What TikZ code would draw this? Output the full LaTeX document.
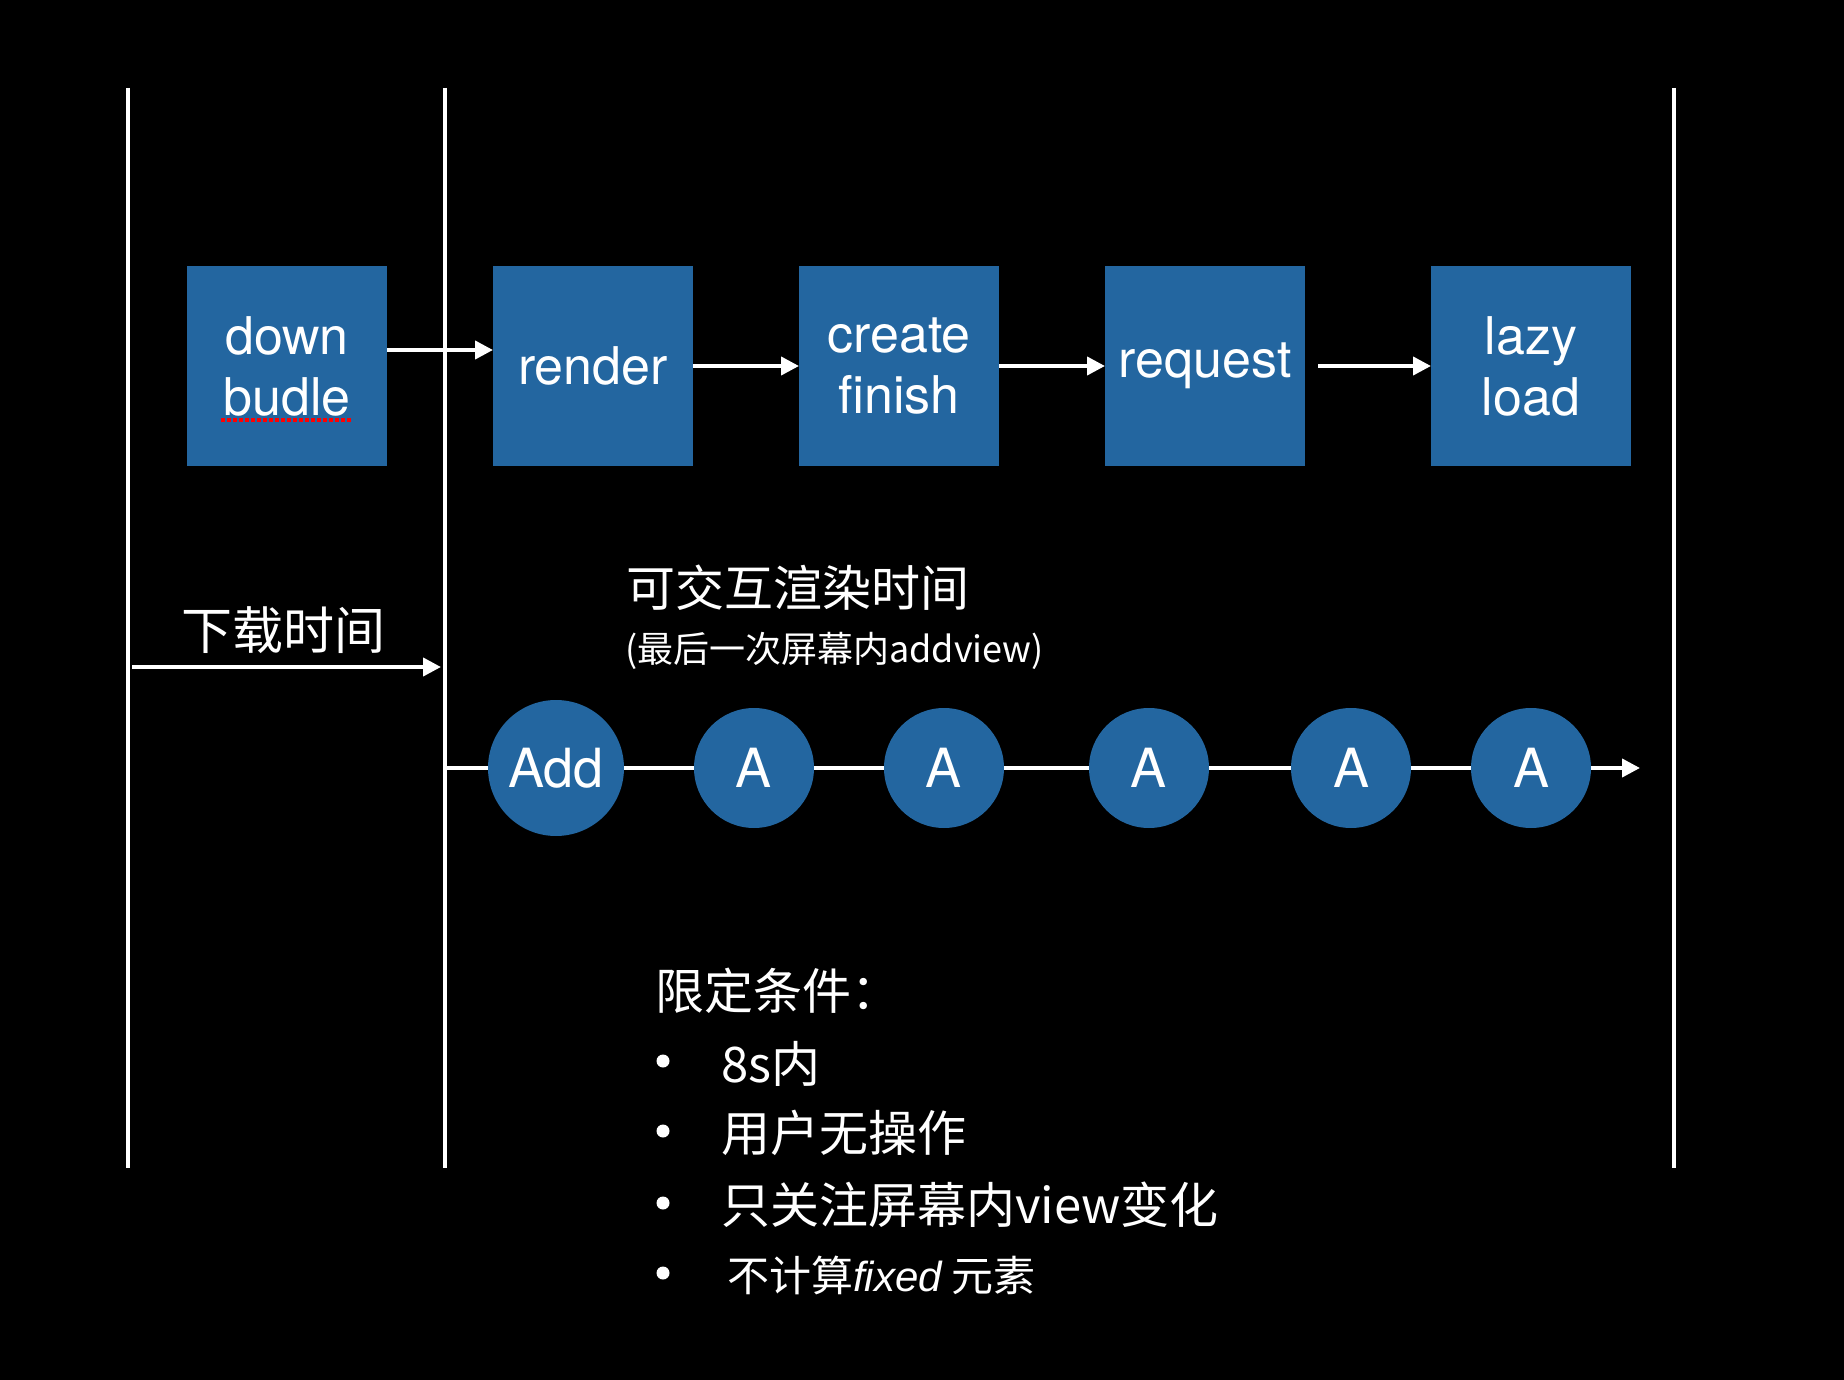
\documentclass[tikz,border=0pt]{standalone}
\usepackage{fontspec}
\usetikzlibrary{arrows.meta}
\setmainfont{Noto Sans CJK SC}
\newfontfamily\heros{TeX Gyre Heros}
\newfontfamily\latinit{Liberation Sans}
\definecolor{boxblue}{RGB}{35,102,160}

\begin{document}
\begin{tikzpicture}[x=0.5pt,y=-0.5pt,
  every node/.style={text=white, inner sep=0pt, outer sep=0pt},
  stage/.style={fill=boxblue, minimum size=100pt, align=center, font=\heros\fontsize{26}{30.5}\selectfont},
  event/.style={circle, fill=boxblue, minimum size=60pt, font=\heros\fontsize{27}{30}\selectfont},
  flow/.style={white, line width=2pt, -{Triangle[length=9pt,width=9pt]}},
  border/.style={white, line width=1.75pt},
  big/.style={font=\fontsize{24.5}{30}\selectfont},
  dot/.style={circle, fill=white, minimum size=6.5pt},
]
\fill[black] (0,0) rectangle (1844,1380);

% Vertical borders
\draw[border] (128,88) -- (128,1168);
\draw[border] (445,88) -- (445,1168);
\draw[border] (1674,88) -- (1674,1168);

% Stages left to right
\node[stage] (down) at (287,366) {down\\budle};
\node[stage] (render) at (593,366) {render};
\node[stage] (create) at (899,366) {create\\finish};
\node[stage] (request) at (1205,366) {request};
\node[stage] (lazy) at (1531,366) {lazy\\load};
\draw[red, line width=2pt, dash pattern=on 2pt off 1pt] (221,420) -- (353,420);

\draw[flow] ([yshift=8pt]down.east) -- ([yshift=8pt]render.west);
\draw[flow] (render) -- (create);
\draw[flow] (create) -- (request);
\draw[flow] ([xshift=6.5pt]request.east) -- (lazy);

% Download time
\coordinate (d0) at (132,667);
\coordinate (d1) at (441,667);
\node[font=\fontsize{25.5}{30}\selectfont] (dtime) at (283,630) {下载时间};
\draw[flow] (d0) -- (d1);

% Interactive render time
\node[big, anchor=west] (itime) at (626,588) {可交互渲染时间};
\node[anchor=west, font=\fontsize{18}{22}\selectfont] (inote) at (625,651) {(最后一次屏幕内addview)};

% Timeline
\coordinate (t0) at (445,768);
\coordinate (t1) at (1640,768);
\node[event, minimum size=68pt] (add) at (556,768) {Add};
\node[event] (a1) at (754,768) {A};
\node[event] (a2) at (944,768) {A};
\node[event] (a3) at (1149,768) {A};
\node[event] (a4) at (1351,768) {A};
\node[event] (a5) at (1531,768) {A};
\draw[flow] (t0) -- (add) -- (a1) -- (a2) -- (a3) -- (a4) -- (a5) -- (t1);

% Conditions
\node[big, anchor=west] (cond) at (655,991) {限定条件：};
\node[dot] (b1) at (663,1061) {};
\node[dot] (b2) at (663,1131) {};
\node[dot] (b3) at (663,1203) {};
\node[dot] (b4) at (663,1273) {};
\node[big, anchor=west] (c1) at (721,1064) {8s内};
\node[big, anchor=west] (c2) at (721,1133) {用户无操作};
\node[big, anchor=west] (c3) at (721,1205) {只关注屏幕内view变化};
\node[anchor=west, font=\fontsize{21}{26}\selectfont] (c4) at (727,1275) {不计算{\latinit\itshape fixed} 元素};
\end{tikzpicture}
\end{document}
